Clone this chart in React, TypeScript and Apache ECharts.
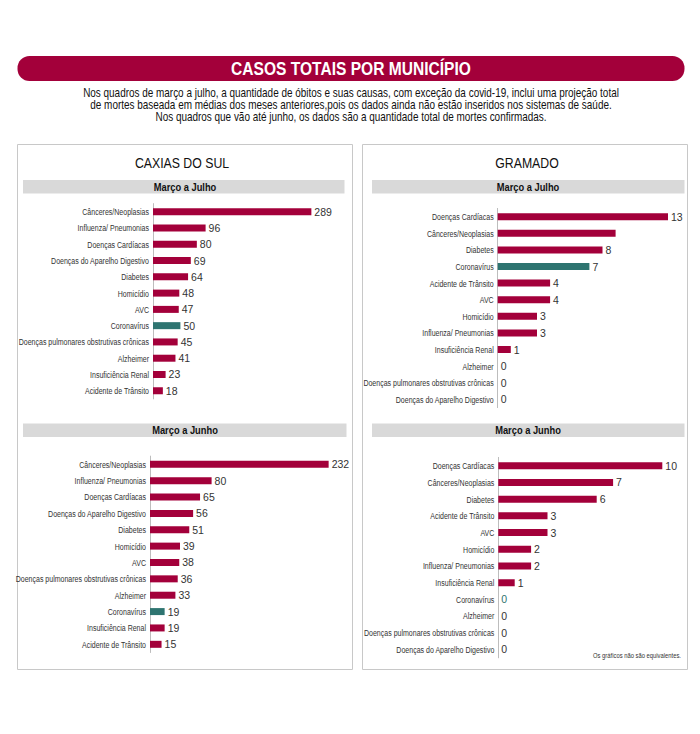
import React, { useEffect, useRef } from "react";
import * as echarts from "echarts";

const TITLE = "CASOS TOTAIS POR MUNICÍPIO";
const SUBTITLE = [
  "Nos quadros de março a julho, a quantidade de óbitos e suas causas, com exceção da covid-19, inclui uma projeção total",
  "de mortes baseada em médias dos meses anteriores,pois os dados ainda não estão inseridos nos sistemas de saúde.",
  "Nos quadros que vão até junho, os dados são a quantidade total de mortes confirmadas.",
];
const CITIES = ["CAXIAS DO SUL", "GRAMADO"];
const PERIODS = ["Março a Julho", "Março a Junho"];
const FOOTNOTE = "Os gráficos não são equivalentes.";

const caxiasJulCats = [
  "Cânceres/Neoplasias",
  "Influenza/ Pneumonias",
  "Doenças Cardíacas",
  "Doenças do Aparelho Digestivo",
  "Diabetes",
  "Homicídio",
  "AVC",
  "Coronavírus",
  "Doenças pulmonares obstrutivas crônicas",
  "Alzheimer",
  "Insuficiência Renal",
  "Acidente de Trânsito",
];
const caxiasJulVals = [289, 96, 80, 69, 64, 48, 47, 50, 45, 41, 23, 18];

const caxiasJunCats = [
  "Cânceres/Neoplasias",
  "Influenza/ Pneumonias",
  "Doenças Cardíacas",
  "Doenças do Aparelho Digestivo",
  "Diabetes",
  "Homicídio",
  "AVC",
  "Doenças pulmonares obstrutivas crônicas",
  "Alzheimer",
  "Coronavírus",
  "Insuficiência Renal",
  "Acidente de Trânsito",
];
const caxiasJunVals = [232, 80, 65, 56, 51, 39, 38, 36, 33, 19, 19, 15];

const gramadoJulCats = [
  "Doenças Cardíacas",
  "Cânceres/Neoplasias",
  "Diabetes",
  "Coronavírus",
  "Acidente de Trânsito",
  "AVC",
  "Homicídio",
  "Influenza/ Pneumonias",
  "Insuficiência Renal",
  "Alzheimer",
  "Doenças pulmonares obstrutivas crônicas",
  "Doenças do Aparelho Digestivo",
];
const gramadoJulVals = [13, 9, 8, 7, 4, 4, 3, 3, 1, 0, 0, 0];
const gramadoJulHiddenLabels = ["Cânceres/Neoplasias"];

const gramadoJunCats = [
  "Doenças Cardíacas",
  "Cânceres/Neoplasias",
  "Diabetes",
  "Acidente de Trânsito",
  "AVC",
  "Homicídio",
  "Influenza/ Pneumonias",
  "Insuficiência Renal",
  "Coronavírus",
  "Alzheimer",
  "Doenças pulmonares obstrutivas crônicas",
  "Doenças do Aparelho Digestivo",
];
const gramadoJunVals = [10, 7, 6, 3, 3, 2, 2, 1, 0, 0, 0, 0];

const HIGHLIGHT = "Coronavírus";
const RED = "#a3003a";
const TEAL = "#2e7470";
const FONT = "'Liberation Sans', Arial, sans-serif";

export default function App() {
  const ref = useRef<HTMLDivElement>(null);
  useEffect(() => {
    if (!ref.current) return;
    const chart = echarts.init(ref.current, null, { renderer: "svg" });

    const panels = [
      { cats: caxiasJulCats, vals: caxiasJulVals, hidden: [] as string[], left: 153, top: 203.6, width: 164.4, height: 195.3, max: 300 },
      { cats: caxiasJunCats, vals: caxiasJunVals, hidden: [] as string[], left: 150, top: 456.1, width: 200.2, height: 196.4, max: 260 },
      { cats: gramadoJulCats, vals: gramadoJulVals, hidden: gramadoJulHiddenLabels, left: 497.7, top: 208.4, width: 183.4, height: 199.2, max: 14 },
      { cats: gramadoJunCats, vals: gramadoJunVals, hidden: [] as string[], left: 498.3, top: 457.4, width: 180.4, height: 200.4, max: 11 },
    ];

    const grid = panels.map((p) => ({
      left: p.left,
      top: p.top,
      width: p.width,
      height: p.height,
      containLabel: false,
      outerBoundsMode: "none",
    }));
    const xAxis = panels.map((p, i) => ({
      type: "value",
      gridIndex: i,
      min: 0,
      max: p.max,
      show: false,
      splitLine: { show: false },
    }));
    const yAxis = panels.map((p, i) => ({
      type: "category",
      gridIndex: i,
      data: p.cats,
      inverse: true,
      axisLine: { show: true, lineStyle: { color: "#bdbdbd", width: 1 } },
      axisTick: { show: false },
      splitLine: { show: false },
      axisLabel: { show: false },
    }));
    const barSeries = panels.map((p, i) => ({
      type: "bar",
      xAxisIndex: i,
      yAxisIndex: i,
      barWidth: 7,
      data: p.vals.map((v, k) => {
        const isHi = p.cats[k] === HIGHLIGHT;
        const hide = p.hidden.indexOf(p.cats[k]) >= 0;
        return {
          value: v,
          itemStyle: { color: isHi ? TEAL : RED },
          label: hide ? { show: false } : { color: isHi && v === 0 ? TEAL : "#333" },
        };
      }),
      label: {
        show: true,
        position: "right",
        distance: 3,
        color: "#333",
        fontFamily: FONT,
        fontSize: 10.5,
      },
    }));
    // category names drawn at the axis positions (condensed look via scaleX)
    const labelSeries = panels.map((p, i) => ({
      type: "custom",
      xAxisIndex: i,
      yAxisIndex: i,
      clip: false,
      silent: true,
      data: p.cats.map((c, k) => [0, k]),
      renderItem: (params: any, api: any) => {
        const pt = api.coord([0, api.value(1)]);
        return {
          type: "text",
          x: pt[0] - 4,
          y: pt[1],
          scaleX: 0.74,
          style: {
            text: p.cats[params.dataIndex],
            fill: "#333",
            font: `9.5px ${FONT}`,
            align: "right",
            verticalAlign: "middle",
          },
        };
      },
    }));

    const txt = (x: number, y: number, text: string, font: string, fill: string, sx: number, align = "center") => ({
      type: "text",
      x,
      y,
      scaleX: sx,
      style: { text, fill, font, align, verticalAlign: "middle" },
    });

    const graphic: any[] = [
      { type: "rect", shape: { x: 17.5, y: 56, width: 667, height: 25, r: 12 }, style: { fill: RED } },
      txt(351, 68.5, TITLE, `bold 19px ${FONT}`, "#fff", 0.82),
      ...SUBTITLE.map((t, i) => txt(351, 92.5 + i * 11.8, t, `12.5px ${FONT}`, "#111", 0.796)),
      { type: "rect", shape: { x: 17.5, y: 144.5, width: 335, height: 525 }, style: { fill: "none", stroke: "#c8c8c8", lineWidth: 1 } },
      { type: "rect", shape: { x: 362.5, y: 144.5, width: 325, height: 525 }, style: { fill: "none", stroke: "#c8c8c8", lineWidth: 1 } },
      txt(182, 163, CITIES[0], `15px ${FONT}`, "#111", 0.82),
      txt(527, 163, CITIES[1], `15px ${FONT}`, "#111", 0.82),
      { type: "rect", shape: { x: 23, y: 180, width: 321.5, height: 13.5 }, style: { fill: "#d9d9d9" } },
      { type: "rect", shape: { x: 372, y: 180, width: 312.5, height: 13.5 }, style: { fill: "#d9d9d9" } },
      { type: "rect", shape: { x: 23, y: 423.5, width: 323.5, height: 13.5 }, style: { fill: "#d9d9d9" } },
      { type: "rect", shape: { x: 372, y: 423.5, width: 312.5, height: 13.5 }, style: { fill: "#d9d9d9" } },
      txt(185, 187, PERIODS[0], `bold 11.5px ${FONT}`, "#111", 0.81),
      txt(528, 187, PERIODS[0], `bold 11.5px ${FONT}`, "#111", 0.81),
      txt(185, 430.5, PERIODS[1], `bold 11.5px ${FONT}`, "#111", 0.81),
      txt(528, 430.5, PERIODS[1], `bold 11.5px ${FONT}`, "#111", 0.81),
      txt(681, 655, FOOTNOTE, `6.5px ${FONT}`, "#333", 0.9, "right"),
    ];

    chart.setOption({
      animation: false,
      backgroundColor: "#fff",
      grid,
      xAxis,
      yAxis,
      series: [...barSeries, ...labelSeries],
      graphic,
    } as any);
    return () => chart.dispose();
  }, []);
  return (
    <div
      ref={ref}
      style={{ position: "absolute", left: 0, top: 0, width: 700, height: 734, background: "#fff" }}
    />
  );
}
